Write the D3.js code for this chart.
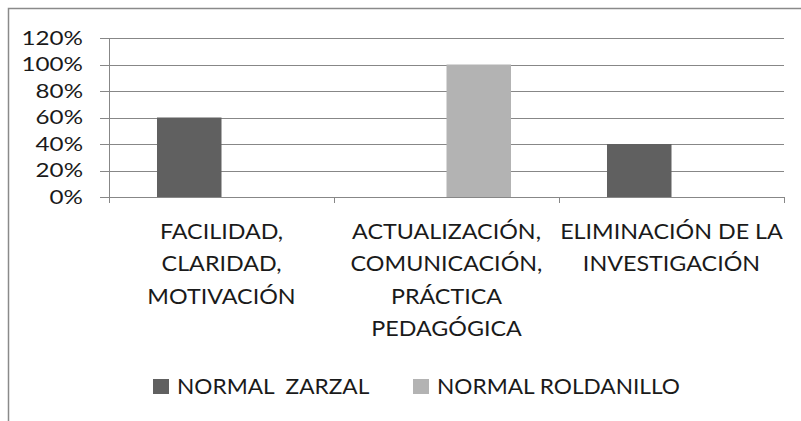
<!DOCTYPE html>
<html>
<head>
<meta charset="utf-8">
<script src="https://cdn.jsdelivr.net/npm/d3@7"></script>
<style>
  html, body { margin: 0; padding: 0; background: #fff; }
  svg { display: block; }
  text { font-family: Lato, "Open Sans", sans-serif; fill: #1a1a1a; }
</style>
</head>
<body>
<script>
// ---- data ----
const categories = [
  ["FACILIDAD,", "CLARIDAD,", "MOTIVACIÓN"],
  ["ACTUALIZACIÓN,", "COMUNICACIÓN,", "PRÁCTICA", "PEDAGÓGICA"],
  ["ELIMINACIÓN DE LA", "INVESTIGACIÓN"]
];
const seriesNames = ["NORMAL  ZARZAL", "NORMAL ROLDANILLO"];
const zarzal = [0.60, 0, 0.40];
const roldanillo = [0, 1.00, 0];
const yTicks = [0, 0.2, 0.4, 0.6, 0.8, 1.0, 1.2];
const yTickLabels = ["0%", "20%", "40%", "60%", "80%", "100%", "120%"];
const colors = ["#606060", "#b3b3b3"];

// ---- layout ----
const W = 801, H = 421;
const plot = { left: 109, right: 784, top: 38, bottom: 197 };
const gridColor = "#878787";

const svg = d3.select("body").append("svg").attr("width", W).attr("height", H);
svg.append("rect").attr("width", W).attr("height", H).attr("fill", "#fff");
// outer frame (extends past the picture at right/bottom)
svg.append("rect").attr("x", 8.5).attr("y", 8.5).attr("width", 900).attr("height", 600)
  .attr("fill", "none").attr("stroke", "#8a8a8a").attr("stroke-width", 1.5);

const y = d3.scaleLinear().domain([0, 1.2]).range([plot.bottom, plot.top]);
const x0 = d3.scaleBand().domain(d3.range(categories.length)).range([plot.left, plot.right]).paddingInner(0).paddingOuter(0);
const x1 = d3.scaleBand().domain([0, 1]).range([0, x0.bandwidth()]).paddingInner(0).paddingOuter(0.744);

// gridlines + left ticks
const grid = svg.append("g");
yTicks.forEach(t => {
  grid.append("line")
    .attr("x1", plot.left - 9).attr("x2", plot.right)
    .attr("y1", Math.round(y(t)) + 0.5).attr("y2", Math.round(y(t)) + 0.5)
    .attr("stroke", gridColor).attr("stroke-width", 1);
});

// bars
const series = [zarzal, roldanillo];
series.forEach((vals, si) => {
  svg.append("g").selectAll("rect").data(vals).join("rect")
    .attr("x", (d, i) => x0(i) + x1(si))
    .attr("width", x1.bandwidth())
    .attr("y", d => y(d))
    .attr("height", d => y(0) - y(d))
    .attr("fill", colors[si]);
});

// y axis line
svg.append("line").attr("x1", plot.left + 0.5).attr("x2", plot.left + 0.5)
  .attr("y1", y(1.2)).attr("y2", plot.bottom + 6).attr("stroke", gridColor);
// category ticks
d3.range(categories.length + 1).forEach(i => {
  const xx = i < categories.length ? x0(i) : plot.right;
  svg.append("line").attr("x1", Math.round(xx) + 0.5).attr("x2", Math.round(xx) + 0.5)
    .attr("y1", plot.bottom).attr("y2", plot.bottom + 6).attr("stroke", gridColor);
});

// y tick labels
yTicks.forEach((t, i) => {
  svg.append("text")
    .attr("transform", `translate(83,${y(t) + 6.6}) scale(1.3,1)`)
    .attr("text-anchor", "end").attr("font-size", 18.6)
    .text(yTickLabels[i]);
});

// category labels
categories.forEach((lines, i) => {
  const cx = x0(i) + x0.bandwidth() / 2;
  lines.forEach((ln, j) => {
    svg.append("text")
      .attr("transform", `translate(${cx},${239 + j * 32.3}) scale(1.06,1)`)
      .attr("text-anchor", "middle").attr("font-size", 22)
      .text(ln);
  });
});

// legend
const legendX = [153, 413];
seriesNames.forEach((name, i) => {
  svg.append("rect").attr("x", legendX[i]).attr("y", 379).attr("width", 16).attr("height", 15).attr("fill", colors[i]);
  svg.append("text")
    .attr("transform", `translate(${legendX[i] + 24},394) scale(1.03,1)`)
    .attr("font-size", 22).style("white-space", "pre")
    .text(name);
});
</script>
</body>
</html>
